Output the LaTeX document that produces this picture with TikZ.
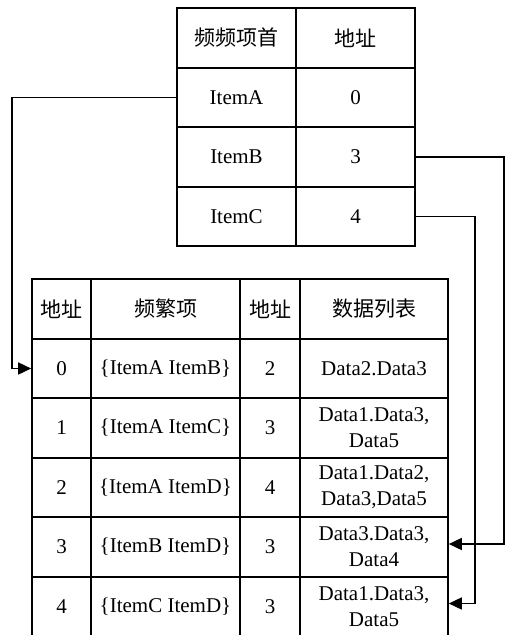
\documentclass[tikz,border=0pt]{standalone}
\usepackage{fontspec}
\setmainfont{Liberation Serif}
\newfontfamily\cjk{Noto Sans CJK SC}
\usetikzlibrary{arrows.meta}
\begin{document}
\begin{tikzpicture}[x=1pt,y=-1pt,
  cell/.style={draw,line width=1.6pt,inner sep=0pt,align=center,
    font=\fontsize{21}{26}\selectfont},
  conn/.style={line width=1.6pt,-{Triangle[length=13pt,width=12pt]}}]
\useasboundingbox (0,0) rectangle (506,635);
% top table
\tikzset{tc/.style={cell,minimum width=119pt,minimum height=59.5pt}}
\node[tc] (h1) at (236.5,38) {\cjk 频频项首};
\node[tc] (h2) at (355.5,38) {\cjk 地址};
\node[tc] (a1) at (236.5,97.5) {ItemA};
\node[tc] (a2) at (355.5,97.5) {0};
\node[tc] (b1) at (236.5,157) {ItemB};
\node[tc] (b2) at (355.5,157) {3};
\node[tc] (c1) at (236.5,216.5) {ItemC};
\node[tc] (c2) at (355.5,216.5) {4};
% bottom table
\tikzset{ca/.style={cell,minimum width=59pt,minimum height=59.5pt},
         cb/.style={cell,minimum width=149pt,minimum height=59.5pt},
         cc/.style={cell,minimum width=60pt,minimum height=59.5pt},
         cd/.style={cell,minimum width=148pt,minimum height=59.5pt}}
\node[ca] (r0c0) at (61.5,309) {\cjk 地址};
\node[cb] (r0c1) at (165.5,309) {\cjk 频繁项};
\node[cc] (r0c2) at (270,309) {\cjk 地址};
\node[cd] (r0c3) at (374,309) {\cjk 数据列表};
\node[ca] (r1c0) at (61.5,368.5) {0};
\node[cb] (r1c1) at (165.5,368.5) {\{ItemA ItemB\}};
\node[cc] (r1c2) at (270,368.5) {2};
\node[cd] (r1c3) at (374,368.5) {Data2.Data3};
\node[ca] (r2c0) at (61.5,428) {1};
\node[cb] (r2c1) at (165.5,428) {\{ItemA ItemC\}};
\node[cc] (r2c2) at (270,428) {3};
\node[cd] (r2c3) at (374,428) {Data1.Data3,\\Data5};
\node[ca] (r3c0) at (61.5,487.5) {2};
\node[cb] (r3c1) at (165.5,487.5) {\{ItemA ItemD\}};
\node[cc] (r3c2) at (270,487.5) {4};
\node[cd] (r3c3) at (374,487.5) {Data1.Data2,\\Data3,Data5};
\node[ca] (r4c0) at (61.5,547) {3};
\node[cb] (r4c1) at (165.5,547) {\{ItemB ItemD\}};
\node[cc] (r4c2) at (270,547) {3};
\node[cd] (r4c3) at (374,547) {Data3.Data3,\\Data4};
\node[ca] (r5c0) at (61.5,606.5) {4};
\node[cb] (r5c1) at (165.5,606.5) {\{ItemC ItemD\}};
\node[cc] (r5c2) at (270,606.5) {3};
\node[cd] (r5c3) at (374,606.5) {Data1.Data3,\\Data5};
% connectors
\draw[conn] (a1.west) -- ++(-164,0) |- (r1c0.west);
\draw[conn] (b2.east) -- ++(88,0) |- ([yshift=3pt]r4c3.east);
\draw[conn] (c2.east) -- ++(59,0) |- ([yshift=3pt]r5c3.east);
\end{tikzpicture}
\end{document}
